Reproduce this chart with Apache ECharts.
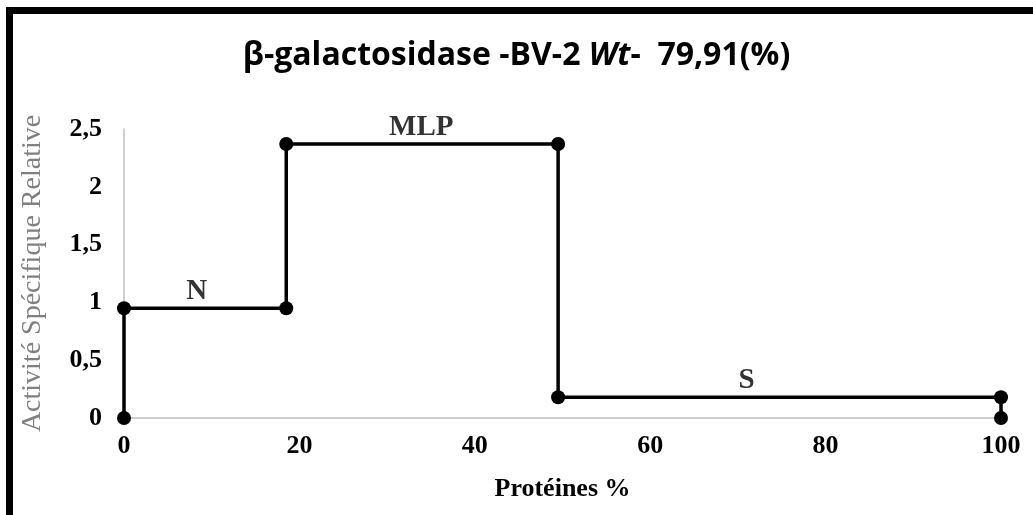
<!DOCTYPE html>
<html>
<head>
<meta charset="utf-8">
<script src="https://cdn.jsdelivr.net/npm/echarts@6/dist/echarts.min.js"></script>
<style>
html,body{margin:0;padding:0;background:#fff;}
#c{width:1033px;height:515px;}
</style>
</head>
<body>
<div id="c"></div>
<script>
var proteinX = [0, 0, 18.5, 18.5, 49.5, 49.5, 100, 100];
var activity = [0, 0.95, 0.95, 2.37, 2.37, 0.18, 0.18, 0];
var segLabels = ['N', 'MLP', 'S'];
var segLabelX = [8.3, 33.9, 71];
var segLabelY = [0.95, 2.37, 0.18];
var xTicks = [0, 20, 40, 60, 80, 100];
var yTicks = [0, 0.5, 1, 1.5, 2, 2.5];

var chart = echarts.init(document.getElementById('c'));
var serif = '"Liberation Serif", "Times New Roman", serif';
chart.setOption({
  animation: false,
  backgroundColor: '#fff',
  title: {
    text: '{a|β-galactosidase -BV-2 }{b|Wt}{a|-  79,91(%)}',
    left: 'center',
    top: 35,
    textStyle: {
      rich: {
        a: {fontFamily: '"Open Sans", sans-serif', fontWeight: 'bold', fontSize: 32, color: '#000'},
        b: {fontFamily: '"Open Sans", sans-serif', fontWeight: 'bold', fontStyle: 'italic', fontSize: 32, color: '#000'}
      }
    }
  },
  graphic: [{
    type: 'rect',
    shape: {x: 9.5, y: 10.5, width: 1100, height: 508},
    style: {fill: 'none', stroke: '#000', lineWidth: 7},
    silent: true
  }],
  grid: {left: 124, right: 32, top: 129, bottom: 97},
  xAxis: {
    type: 'value', min: 0, max: 100, interval: 20,
    name: 'Protéines %', nameLocation: 'middle', nameGap: 58,
    nameTextStyle: {fontFamily: serif, fontWeight: 'bold', fontSize: 26, color: '#000'},
    axisLine: {show: true, lineStyle: {color: '#bfbfbf', width: 1.5}},
    axisTick: {show: false},
    splitLine: {show: false},
    axisLabel: {
      margin: 15, fontFamily: serif, fontWeight: 'bold', fontSize: 26, color: '#000',
      formatter: function (v) { return xTicks.indexOf(v) >= 0 ? String(v) : ''; }
    }
  },
  yAxis: {
    type: 'value', min: 0, max: 2.5, interval: 0.5,
    name: 'Activité Spécifique Relative', nameLocation: 'middle', nameGap: 77,
    nameTextStyle: {fontFamily: serif, fontSize: 28, color: '#808080'},
    axisLine: {show: true, lineStyle: {color: '#bfbfbf', width: 1.5}},
    axisTick: {show: false},
    splitLine: {show: false},
    axisLabel: {
      margin: 22, fontFamily: serif, fontWeight: 'bold', fontSize: 26, color: '#000',
      formatter: function (v) { return yTicks.indexOf(v) >= 0 ? String(v).replace('.', ',') : ''; }
    }
  },
  series: [{
    type: 'line',
    data: proteinX.map(function (x, i) { return [x, activity[i]]; }),
    symbol: 'circle', symbolSize: 14,
    lineStyle: {color: '#000', width: 3.5},
    itemStyle: {color: '#000'},
    z: 3
  }, {
    type: 'scatter',
    data: segLabels.map(function (l, i) { return {value: [segLabelX[i], segLabelY[i]], name: l}; }),
    symbolSize: 0,
    label: {
      show: true, position: 'top', distance: 2,
      formatter: function (p) { return p.name; },
      fontFamily: serif, fontWeight: 'bold', fontSize: 29, color: '#000'
    },
    z: 4
  }]
});
</script>
</body>
</html>
